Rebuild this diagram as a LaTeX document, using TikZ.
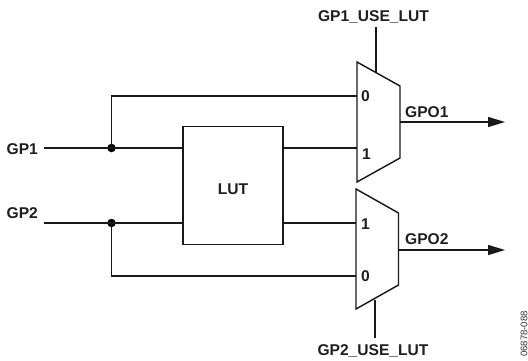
\documentclass[tikz,border=0pt]{standalone}
\usepackage{fontspec}
\setmainfont{Liberation Sans}
\usetikzlibrary{arrows.meta}
\tikzset{
  wire/.style={line width=1.45pt,black!90},
  lab/.style={font=\fontsize{15.6}{15.6}\selectfont\bfseries,inner sep=0pt,text=black!88},
  dotn/.style={circle,fill=black,inner sep=0pt,minimum size=8.5pt},
  lutbox/.style={draw,line width=1.45pt,black!90,inner sep=0pt,minimum width=100pt,minimum height=117.5pt}
}
\begin{document}
\begin{tikzpicture}[x=1pt,y=-1pt]
\useasboundingbox (0,0) rectangle (528,360);
% LUT
\node[lutbox] (lut) at (233,185.5) {};
\node[lab,anchor=base] (lutlab) at (233,194) {LUT};
% Muxes
\draw[wire,line join=miter] (357,62) -- (400,86) -- (400,158) -- (357,182) -- cycle;
\draw[wire,line join=miter] (356,189) -- (398.5,213) -- (398.5,285) -- (356,309) -- cycle;
% labels
\node[lab,anchor=base west] (gp1) at (6.5,154) {GP1};
\node[lab,anchor=base west] (gp2) at (6.5,218) {GP2};
\node[lab,anchor=base] (s1) at (373.5,21) {GP1\_USE\_LUT};
\node[lab,anchor=base] (s2) at (373,355) {GP2\_USE\_LUT};
\node[lab,anchor=base west] (o1) at (405,117) {GPO1};
\node[lab,anchor=base west] (o2) at (405,244) {GPO2};
\node[lab,anchor=base west] (m10) at (361,101) {0};
\node[lab,anchor=base west] (m11) at (362,159) {1};
\node[lab,anchor=base west] (m21) at (361,229) {1};
\node[lab,anchor=base west] (m20) at (361,281) {0};
\node[font=\fontsize{9.6}{9.6}\selectfont,rotate=90,inner sep=0pt,text=black!80] (code) at (524,334) {06878-088};
% named end points
\coordinate (a1) at (44,148);
\coordinate (a2) at (44,223);
\coordinate (j1) at (111.5,148);
\coordinate (j2) at (111.5,223);
\node[dotn] (d1) at (j1) {};
\node[dotn] (d2) at (j2) {};
\coordinate (l1) at (183,148);
\coordinate (l2) at (183,223);
\coordinate (r1) at (283,148);
\coordinate (r2) at (283,223);
\coordinate (m1a) at (357,96);
\coordinate (m1b) at (357,148);
\coordinate (m2a) at (356,223);
\coordinate (m2b) at (356,276);
\coordinate (q1) at (400,122);
\coordinate (q2) at (398.5,250);
\coordinate (e1) at (505,122);
\coordinate (e2) at (505,250);
\coordinate (t1) at (376,27);
\coordinate (t1b) at (376,73);
\coordinate (t2) at (375,300);
\coordinate (t2b) at (375,338);
\draw[wire] (a1) -- (l1);
\draw[wire] (a2) -- (l2);
\draw[wire] (j1) |- (m1a);
\draw[wire] (j2) |- (m2b);
\draw[wire] (r1) -- (m1b);
\draw[wire] (r2) -- (m2a);
\draw[wire,-{Triangle[length=17pt,width=10pt]}] (q1) -- (e1);
\draw[wire,-{Triangle[length=17pt,width=10pt]}] (q2) -- (e2);
\draw[wire] (t1) -- (t1b);
\draw[wire] (t2) -- (t2b);
\end{tikzpicture}
\end{document}
